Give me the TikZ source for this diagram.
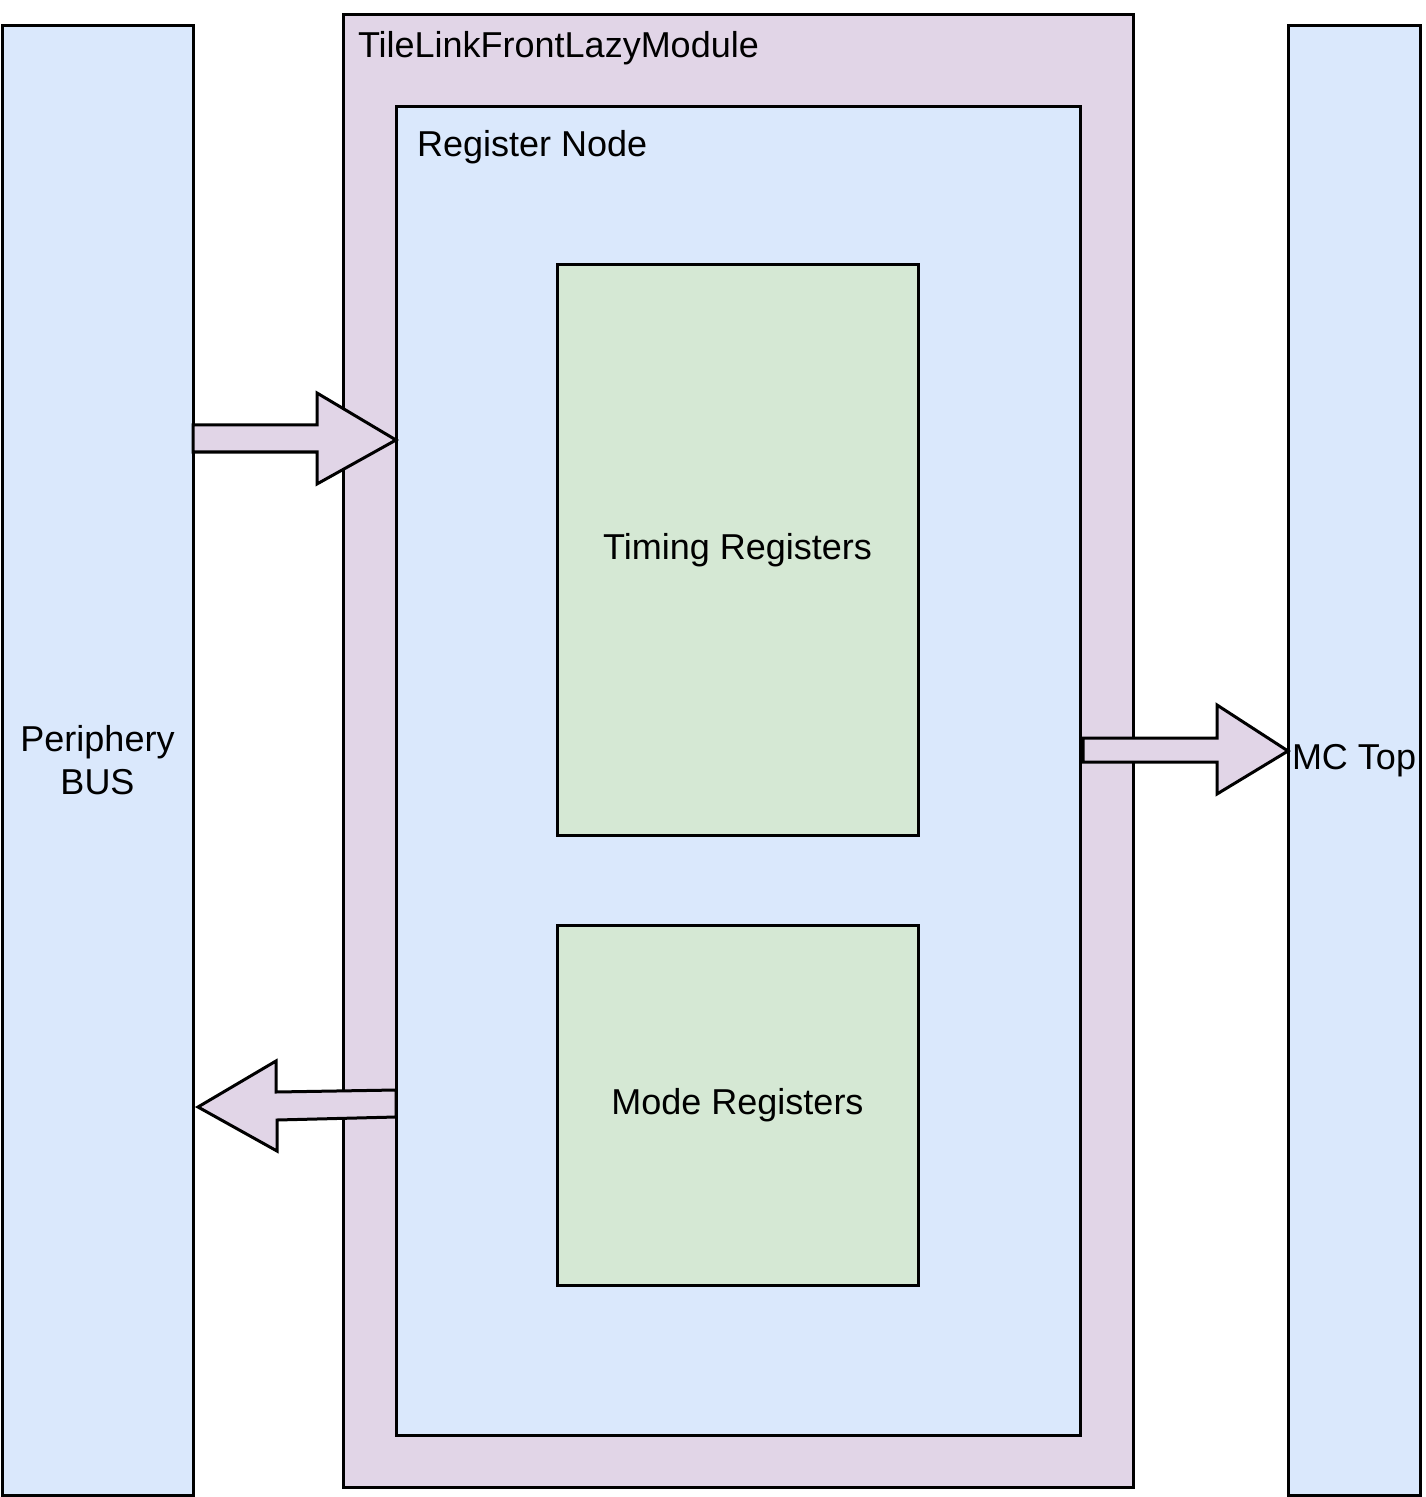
\documentclass[tikz,border=0pt]{standalone}
\usepackage{fontspec}
\setmainfont{Liberation Sans}
\usetikzlibrary{calc}
\definecolor{bluefill}{HTML}{DAE8FC}
\definecolor{purplefill}{HTML}{E1D5E7}
\definecolor{greenfill}{HTML}{D5E8D4}
\tikzset{
  box/.style={draw=black, line width=1.5pt, rectangle, inner sep=0pt, outer sep=0pt, align=center,
    font=\fontsize{18}{21.6}\selectfont},
  bluebox/.style={box, fill=bluefill},
  purplebox/.style={box, fill=purplefill},
  greenbox/.style={box, fill=greenfill},
  title/.style={inner sep=0pt, outer sep=0pt, anchor=base west, font=\fontsize{18}{21.6}\selectfont},
  blockarrow/.style={draw=black, line width=1.5pt, fill=purplefill, line join=miter}
}
\begin{document}
\begin{tikzpicture}[x=0.5pt, y=-0.5pt]
\useasboundingbox (0,0) rectangle (1425,1497);
% side buses
\node[bluebox, minimum width=95.5pt, minimum height=734.5pt] (pbus) at (97.5,760.5) {Periphery\\BUS};
\node[bluebox, minimum width=66pt, minimum height=734.5pt] (mc) at (1354,760.5) {MC Top};
% module
\node[purplebox, minimum width=395pt, minimum height=736pt] (tl) at (738,751) {};
\node[title] (tltitle) at (358,58) {TileLinkFrontLazyModule};
\node[bluebox, minimum width=342pt, minimum height=664pt] (rn) at (738,771) {};
\node[title] (rntitle) at (417,157) {Register Node};
\node[greenbox, minimum width=180.5pt, minimum height=285pt] (tr) at (737.5,550) {Timing Registers};
\node[greenbox, minimum width=180.5pt, minimum height=180pt] (mr) at (737.5,1105) {Mode Registers};
% arrow: bus -> register node
\draw[blockarrow] (pbus.east |- 0,425) -- (317,425) -- (317,393) -- (rn.west |- 0,440)
  -- (317,484) -- (317,452) -- (pbus.east |- 0,452) -- cycle;
% arrow: register node -> bus
\draw[blockarrow] ($(pbus.east |- 0,1107)+(5,0)$) -- (276,1061) -- (276,1092) -- (rn.west |- 0,1090)
  -- (rn.west |- 0,1117) -- (277,1120) -- (277,1151) -- cycle;
% arrow: register node -> MC top
\draw[blockarrow] ($(rn.east |- 0,738)+(3,0)$) -- (1217,738) -- (1217,705) -- (mc.west |- 0,751)
  -- (1217,794) -- (1217,762) -- ($(rn.east |- 0,762)+(3,0)$) -- cycle;
\end{tikzpicture}
\end{document}
